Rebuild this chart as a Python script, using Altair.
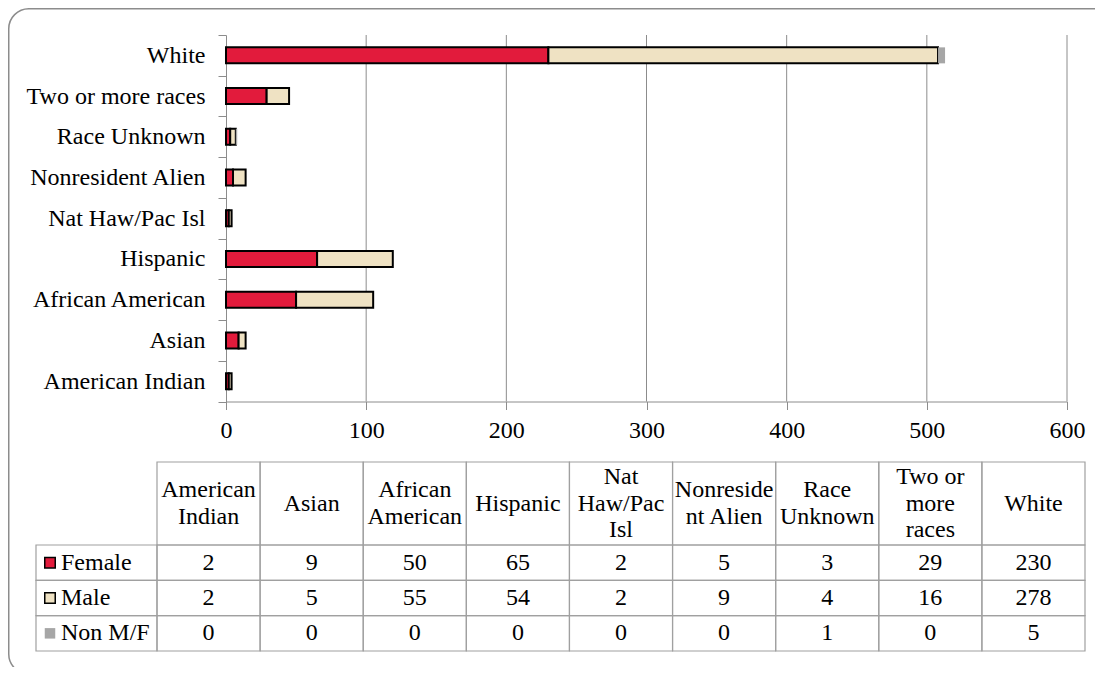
import altair as alt
import pandas as pd

# ---------------- data ----------------
categories = ["American Indian", "Asian", "African American", "Hispanic",
              "Nat Haw/Pac Isl", "Nonresident Alien", "Race Unknown",
              "Two or more races", "White"]
header_labels = ["American\nIndian", "Asian", "African\nAmerican", "Hispanic",
                 "Nat\nHaw/Pac\nIsl", "Nonreside\nnt Alien", "Race\nUnknown",
                 "Two or\nmore\nraces", "White"]
female = [2, 9, 50, 65, 2, 5, 3, 29, 230]
male = [2, 5, 55, 54, 2, 9, 4, 16, 278]
non_mf = [0, 0, 0, 0, 0, 0, 1, 0, 5]
series_names = ["Female", "Male", "Non M/F"]
series_colors = ["#E21B3C", "#EFE2C3", "#A6A6A6"]
series_strokes = ["black", "black", "transparent"]
x_ticks = [0, 100, 200, 300, 400, 500, 600]

# ---------------- style / layout ----------------
FONT = "Liberation Serif"
FS = 24
LH = 26.5
LINE = "#8C8C8C"
TLINE = "#A0A0A0"
W, H = 1087, 659
PX0, PX1 = 218, 1059        # plot x range (0 .. 600)
PY0, PY1 = 27, 393.5        # plot y range
TX0, TX1 = 149, 1077        # table category columns
TY0, TY1 = 537, 643         # table data rows
HY0, HY1 = 454, 537         # table header row
LX0 = 28                    # legend column left

rows = []
for i, (s, vals) in enumerate(zip(series_names, [female, male, non_mf])):
    for c, v in zip(categories, vals):
        rows.append({"category": c, "series": s, "value": v, "order": i})
long_df = pd.DataFrame(rows)
header_df = pd.DataFrame({"category": categories, "header": header_labels,
                          "nlines": [h.count("\n") + 1 for h in header_labels]})
legend_df = pd.DataFrame({"series": series_names})
grid_df = pd.DataFrame({"tick": x_ticks[1:]})
one_df = pd.DataFrame({"a": [0]})

fill_scale = alt.Scale(domain=series_names, range=series_colors)
stroke_scale = alt.Scale(domain=series_names, range=series_strokes)
xscale = alt.Scale(domain=[0, 600], range=[PX0, PX1], nice=False, zero=True)
yscale = alt.Scale(domain=list(reversed(categories)), range=[PY0, PY1],
                   paddingInner=0, paddingOuter=0)
tx = alt.Scale(domain=categories, range=[TX0, TX1], paddingInner=0, paddingOuter=0)
ty = alt.Scale(domain=series_names, range=[TY0, TY1], paddingInner=0, paddingOuter=0)

border = alt.Chart(one_df).mark_rect(
    fillOpacity=0, stroke=LINE, strokeWidth=1.5, cornerRadius=20
).encode(x=alt.value(0.75), x2=alt.value(1110), y=alt.value(0.75), y2=alt.value(666))

grid = alt.Chart(grid_df).mark_rule(color=LINE, strokeWidth=1).encode(
    x=alt.X("tick:Q", scale=xscale, axis=None),
    y=alt.value(PY0), y2=alt.value(PY1),
)

bars = alt.Chart(long_df).mark_bar(size=16, strokeWidth=2).encode(
    y=alt.Y("category:N", scale=yscale, sort=None,
            axis=alt.Axis(title=None, orient="left", offset=-PX0, tickBand="extent",
                          tickSize=8, domainColor=LINE, tickColor=LINE,
                          labelFont=FONT, labelFontSize=FS, labelColor="black",
                          labelPadding=13, labelLimit=400)),
    x=alt.X("value:Q", stack="zero", scale=xscale,
            axis=alt.Axis(title=None, orient="bottom", offset=PY1 - H, values=x_ticks,
                          tickSize=8, grid=False, domainColor=LINE, tickColor=LINE,
                          labelFont=FONT, labelFontSize=FS, labelColor="black",
                          labelPadding=9, labelFlush=False)),
    fill=alt.Fill("series:N", scale=fill_scale, legend=None),
    stroke=alt.Stroke("series:N", scale=stroke_scale, legend=None),
    order=alt.Order("order:Q"),
)

header_cells = alt.Chart(header_df).mark_rect(
    fillOpacity=0, stroke=TLINE, strokeWidth=1.2
).encode(x=alt.X("category:N", scale=tx, axis=None, sort=None),
         y=alt.value(HY0), y2=alt.value(HY1))

data_cells = alt.Chart(long_df).mark_rect(
    fillOpacity=0, stroke=TLINE, strokeWidth=1.2
).encode(x=alt.X("category:N", scale=tx, axis=None, sort=None),
         y=alt.Y("series:N", scale=ty, axis=None, sort=None))

label_cells = alt.Chart(legend_df).mark_rect(
    fillOpacity=0, stroke=TLINE, strokeWidth=1.2
).encode(x=alt.value(LX0), x2=alt.value(TX0),
         y=alt.Y("series:N", scale=ty, axis=None, sort=None))

header_layers = []
for n in (1, 2, 3):
    header_layers.append(
        alt.Chart(header_df).transform_filter(alt.datum.nlines == n).mark_text(
            font=FONT, fontSize=FS, color="black", align="center", baseline="middle",
            lineBreak="\n", lineHeight=LH, dy=-(n - 1) * LH / 2
        ).encode(x=alt.X("category:N", scale=tx, axis=None, sort=None),
                 y=alt.value((HY0 + HY1) / 2), text="header:N")
    )

value_text = alt.Chart(long_df).mark_text(
    font=FONT, fontSize=FS, color="black", align="center", baseline="middle"
).encode(x=alt.X("category:N", scale=tx, axis=None, sort=None),
         y=alt.Y("series:N", scale=ty, axis=None, sort=None), text="value:Q")

legend_sq = alt.Chart(legend_df).mark_point(
    shape="square", filled=True, size=110, strokeWidth=1.5, opacity=1
).encode(x=alt.value(42),
         y=alt.Y("series:N", scale=ty, axis=None, sort=None),
         fill=alt.Fill("series:N", scale=fill_scale, legend=None),
         stroke=alt.Stroke("series:N", scale=stroke_scale, legend=None))

legend_text = alt.Chart(legend_df).mark_text(
    font=FONT, fontSize=FS, color="black", align="left", baseline="middle"
).encode(x=alt.value(53),
         y=alt.Y("series:N", scale=ty, axis=None, sort=None), text="series:N")

chart = alt.layer(
    border, grid, bars, header_cells, data_cells, label_cells,
    *header_layers, value_text, legend_sq, legend_text
).resolve_scale(
    x="independent", y="independent"
).properties(
    width=W, height=H, padding=0,
    autosize=alt.AutoSizeParams(type="none"),
    background="white",
).configure_view(strokeWidth=0).configure_axis(labelFont=FONT).configure_text(font=FONT)

chart.save("out.html", embed_options={"renderer": "svg", "actions": False})
